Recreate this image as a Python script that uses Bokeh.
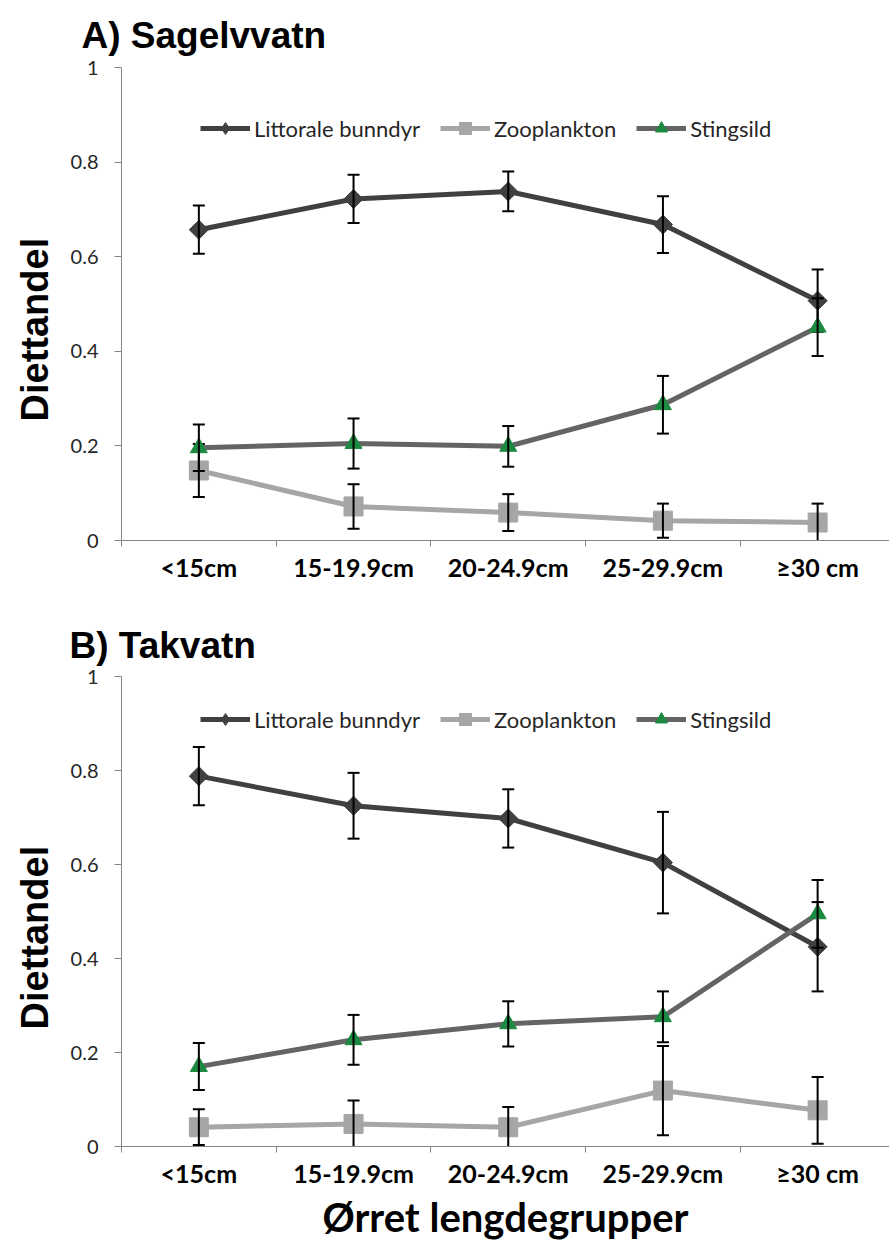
import math
from bokeh.plotting import figure
from bokeh.models import (Range1d, FixedTicker, CustomJSTickFormatter, Title,
                          Legend, LegendItem, ColumnDataSource)
from bokeh.layouts import column
from bokeh.embed import file_html
from bokeh.resources import INLINE

# ---------------- data ----------------
categories = ["<15cm", "15-19.9cm", "20-24.9cm", "25-29.9cm", "≥30 cm"]
series_names = ["Littorale bunndyr", "Zooplankton", "Stingsild"]
y_ticks = [0, 0.2, 0.4, 0.6, 0.8, 1.0]

a_littoral = [0.657, 0.722, 0.738, 0.668, 0.507]
a_littoral_err = [0.051, 0.051, 0.042, 0.060, 0.066]
a_zoo = [0.148, 0.072, 0.059, 0.042, 0.038]
a_zoo_err = [0.056, 0.047, 0.039, 0.036, 0.040]
a_sting = [0.196, 0.205, 0.199, 0.287, 0.451]
a_sting_err = [0.049, 0.053, 0.043, 0.061, 0.061]

b_littoral = [0.788, 0.725, 0.698, 0.604, 0.425]
b_littoral_err = [0.062, 0.070, 0.062, 0.108, 0.095]
b_zoo = [0.041, 0.048, 0.041, 0.119, 0.077]
b_zoo_err = [0.038, 0.050, 0.043, 0.095, 0.071]
b_sting = [0.170, 0.227, 0.261, 0.276, 0.495]
b_sting_err = [0.050, 0.053, 0.048, 0.054, 0.072]

# ---------------- style ----------------
W = 889
LEFT = 118
PITCH = 155.3          # px per category
FRAME_W = W - LEFT
X_END = FRAME_W / PITCH
FONT = "Lato"
AXIS_COL = "#868686"
COL_LIT = "#404040"
COL_ZOO = "#a6a6a6"
COL_STI_LINE = "#646464"
COL_STI_MARK = "#1c8a40"


def panel(title, lit, lit_e, zoo, zoo_e, sti, sti_e, height, top, frame_h,
          title_px, title_gap, legend_bottom, ylabel_offset, xlabel=None):
    bottom = height - top - frame_h
    p = figure(width=W, height=height, output_backend="svg", toolbar_location=None,
               x_range=Range1d(0, X_END), y_range=Range1d(0, 1),
               min_border_left=LEFT, min_border_right=0,
               min_border_top=top, min_border_bottom=bottom)
    p.outline_line_color = None
    p.xgrid.visible = False
    p.ygrid.visible = False
    p.background_fill_color = "white"

    xs = [i + 0.5 for i in range(len(categories))]

    # x axis
    xa = p.xaxis[0]
    xa.ticker = FixedTicker(ticks=xs, minor_ticks=list(range(len(categories) + 1)))
    xa.major_label_overrides = {x: c for x, c in zip(xs, categories)}
    xa.major_tick_out = 0
    xa.major_tick_in = 0
    xa.minor_tick_out = 6
    xa.minor_tick_in = 0
    xa.axis_line_color = AXIS_COL
    xa.minor_tick_line_color = AXIS_COL
    xa.major_label_text_font = FONT
    xa.major_label_text_font_style = "bold"
    xa.major_label_text_font_size = "25px"
    xa.major_label_text_color = "black"
    xa.major_label_standoff = 5

    # y axis
    ya = p.yaxis[0]
    ya.ticker = FixedTicker(ticks=y_ticks, minor_ticks=[])
    ya.formatter = CustomJSTickFormatter(code="return tick.toFixed(1).replace(/\\.0$/, '');")
    ya.major_tick_out = 7
    ya.major_tick_in = 0
    ya.axis_line_color = AXIS_COL
    ya.major_tick_line_color = AXIS_COL
    ya.major_label_text_font = FONT
    ya.major_label_text_font_size = "20px"
    ya.major_label_text_color = "#262626"
    ya.major_label_standoff = 16

    series = [
        (lit, lit_e, COL_LIT, COL_LIT, "square", math.pi / 4, 13.5, "diamond", 18),
        (zoo, zoo_e, COL_ZOO, COL_ZOO, "square", 0, 19, "square", 13),
        (sti, sti_e, COL_STI_LINE, COL_STI_MARK, "triangle", 0, 17, "triangle", 13),
    ]
    legend_items = []
    for name, (vals, errs, lc, mc, marker, ang, size, lmarker, lsize) in zip(series_names, series):
        src = ColumnDataSource(dict(
            x=xs, y=vals,
            lo=[v - e for v, e in zip(vals, errs)],
            hi=[v + e for v, e in zip(vals, errs)]))
        p.line("x", "y", source=src, line_color=lc, line_width=5)
        p.scatter("x", "y", source=src, marker=marker, angle=ang, size=size,
                  fill_color=mc, line_color=mc)
        p.segment("x", "lo", "x", "hi", source=src, line_color="black", line_width=2)
        p.scatter("x", "lo", source=src, marker="dash", size=12, line_color="black", line_width=2)
        p.scatter("x", "hi", source=src, marker="dash", size=12, line_color="black", line_width=2)
        # legend-only glyphs (a point placed outside the visible range)
        off = ColumnDataSource(dict(x=[-50], y=[-50]))
        lr = p.line("x", "y", source=off, line_color=lc, line_width=5)
        mr = p.scatter("x", "y", source=off, marker=lmarker, size=lsize,
                       fill_color=mc, line_color=mc)
        legend_items.append(LegendItem(label=name, renderers=[lr, mr]))

    legend = Legend(items=legend_items, location=(79, legend_bottom),
                    orientation="horizontal", glyph_width=50, glyph_height=30,
                    label_standoff=4, spacing=20, padding=0, margin=0,
                    border_line_color=None, background_fill_alpha=0,
                    label_text_font=FONT, label_text_font_size="22px",
                    label_text_color="#262626", label_height=22)
    p.add_layout(legend)

    # title
    p.add_layout(Title(text=title, align="left", offset=title_px - LEFT, standoff=title_gap,
                       text_font="Liberation Sans", text_font_style="bold",
                       text_font_size="37px", text_color="black"), "above")
    # y label
    p.add_layout(Title(text="Diettandel", align="left", offset=ylabel_offset, standoff=23,
                       text_font="Liberation Sans", text_font_style="bold",
                       text_font_size="38px", text_color="black"), "left")
    if xlabel:
        p.add_layout(Title(text=xlabel, align="center", standoff=0,
                           text_font=FONT, text_font_style="bold",
                           text_font_size="40px", text_color="black"), "below")
    return p


pa = panel("A) Sagelvvatn", a_littoral, a_littoral_err, a_zoo, a_zoo_err, a_sting, a_sting_err,
           height=605, top=67, frame_h=473, title_px=78, title_gap=24,
           legend_bottom=397, ylabel_offset=119)
pb = panel("B) Takvatn", b_littoral, b_littoral_err, b_zoo, b_zoo_err, b_sting, b_sting_err,
           height=636, top=71, frame_h=470, title_px=66, title_gap=22,
           legend_bottom=412, ylabel_offset=117,
           xlabel="Ørret lengdegrupper")

layout = column(pa, pb, spacing=0)
open("out.html", "w").write(file_html(layout, INLINE))
